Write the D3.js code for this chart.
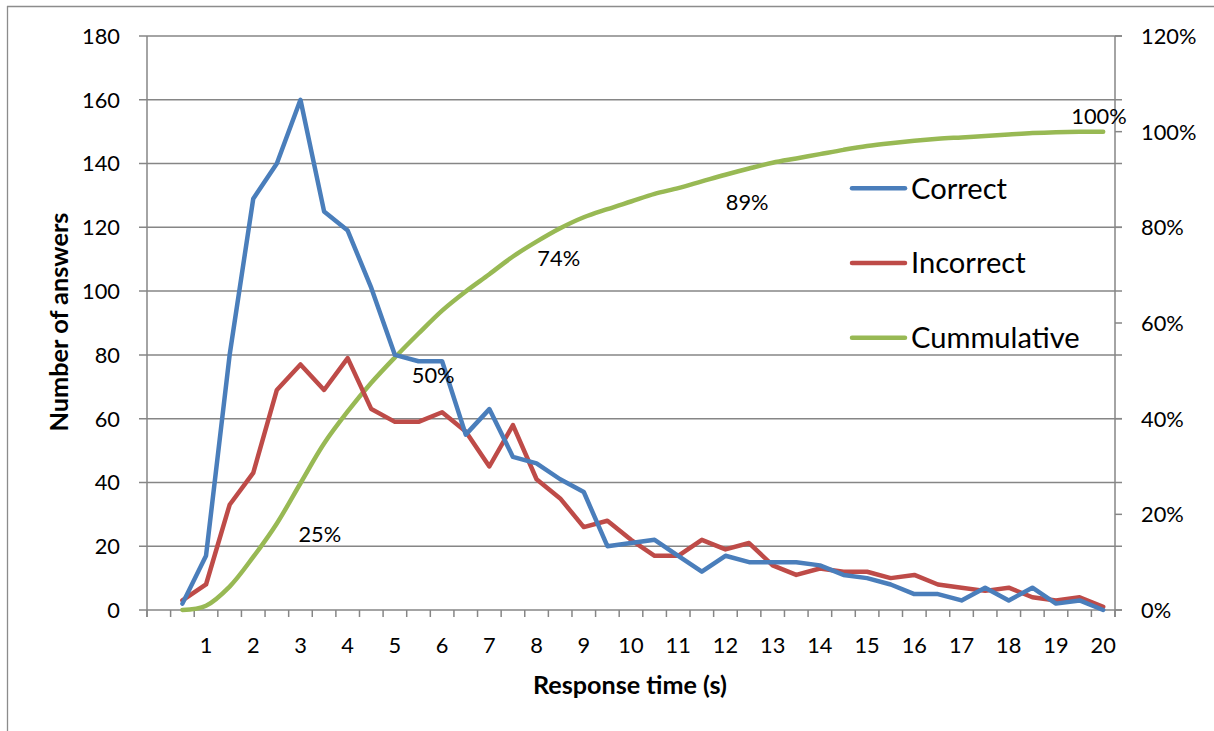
<!DOCTYPE html>
<html>
<head>
<meta charset="utf-8">
<script src="https://cdn.jsdelivr.net/npm/d3@7"></script>
<style>
  html, body { margin: 0; padding: 0; background: #ffffff; }
  svg { display: block; }
</style>
</head>
<body>
<svg id="chart" width="1214" height="731"></svg>
<script>
// ---- data ----
const categories = ["0","0.5","1","1.5","2","2.5","3","3.5","4","4.5","5","5.5","6","6.5","7","7.5","8","8.5","9","9.5","10",
  "10.5","11","11.5","12","12.5","13","13.5","14","14.5","15","15.5","16","16.5","17","17.5","18","18.5","19","19.5","20"];
const xTickLabels = ["1","2","3","4","5","6","7","8","9","10","11","12","13","14","15","16","17","18","19","20"];
const correct = [null, 2,17,80,129,140,160,125,119,101,80,
  78,78,55,63,48,46,41,37,20,21,
  22,17,12,17,15,15,15,14,11,10,
  8,5,5,3,7,3,7,2,3,0];
const incorrect = [null, 3,8,33,43,69,77,69,79,63,59,
  59,62,56,45,58,41,35,26,28,22,
  17,17,22,19,21,14,11,13,12,12,
  10,11,8,7,6,7,4,3,4,1];
const cumulative = [null, 0,0.009,0.049,0.111,0.181,0.265,0.348,0.415,0.475,0.528,
  0.578,0.626,0.666,0.702,0.739,0.770,0.798,0.821,0.838,0.854,
  0.870,0.882,0.896,0.910,0.923,0.935,0.944,0.953,0.962,0.970,
  0.976,0.981,0.985,0.988,0.991,0.994,0.997,0.999,1.0,1.0];
const seriesNames = ["Correct","Incorrect","Cummulative"];
const leftTicks = [0,20,40,60,80,100,120,140,160,180];
const rightTicks = [0,0.2,0.4,0.6,0.8,1.0,1.2];
const labelTexts = ["25%","50%","74%","89%","100%"];
const labelTimes = [3.41, 5.81, 8.47, 12.46, 19.91];
const labelPcts = [0.159, 0.491, 0.736, 0.852, 1.032];

// ---- layout ----
const FONT = "Lato, 'Open Sans', sans-serif";
const colors = ["#4A7EBB", "#BE4B48", "#98B954"];
const gridColor = "#868686";
const plot = { left: 147, right: 1115, top: 36, bottom: 610 };

const svg = d3.select("#chart");

function fitFont(text, weight, target) {
  const t = svg.append("text").attr("font-family", FONT).attr("font-weight", weight)
    .attr("font-size", 100).text(text);
  const w = t.node().getComputedTextLength();
  t.remove();
  return 100 * target / w;
}
const tickFs = (fitFont("180", 400, 36.7) + fitFont("120%", 400, 57.3)) / 2;
const legendFs = (fitFont("Correct", 400, 94.7) + fitFont("Cummulative", 400, 171.3)) / 2;
const xTitleFs = fitFont("Response time (s)", 700, 194);
const yTitleFs = fitFont("Number of answers", 700, 219);

// scales
const x = d3.scaleBand().domain(categories).range([plot.left, plot.right]).paddingInner(0).paddingOuter(0);
const bw = x.bandwidth();
const cx = c => x(c) + bw / 2;
const xLin = d3.scaleLinear().domain([0, 20]).range([cx("0"), cx("20")]);
const yL = d3.scaleLinear().domain([0, 180]).range([plot.bottom, plot.top]);
const yR = d3.scaleLinear().domain([0, 1.2]).range([plot.bottom, plot.top]);

// outer chart border (partially visible)
svg.append("line").attr("x1", 7.5).attr("x2", 7.5).attr("y1", 6).attr("y2", 731)
  .attr("stroke", "#8c8c8c").attr("stroke-width", 1.3);
svg.append("line").attr("x1", 7).attr("x2", 1214).attr("y1", 6.5).attr("y2", 6.5)
  .attr("stroke", "#8c8c8c").attr("stroke-width", 1.3);

// gridlines (with outside tick on left/right)
svg.append("g").selectAll("line").data(leftTicks).join("line")
  .attr("x1", plot.left - 8).attr("x2", plot.right + 7)
  .attr("y1", d => yL(d)).attr("y2", d => yL(d))
  .attr("stroke", gridColor).attr("stroke-width", 1.5);

// right axis minor ticks for percent ticks not coincident with grid
svg.append("g").selectAll("line").data(rightTicks).join("line")
  .attr("x1", plot.right).attr("x2", plot.right + 7)
  .attr("y1", d => yR(d)).attr("y2", d => yR(d))
  .attr("stroke", gridColor).attr("stroke-width", 1.5);

// axis lines
svg.append("line").attr("x1", plot.left).attr("x2", plot.left)
  .attr("y1", plot.top).attr("y2", plot.bottom + 7).attr("stroke", gridColor).attr("stroke-width", 1.5);
svg.append("line").attr("x1", plot.right).attr("x2", plot.right)
  .attr("y1", plot.top).attr("y2", plot.bottom + 7).attr("stroke", gridColor).attr("stroke-width", 1.5);

// category tick marks at band boundaries
const boundaries = categories.map(c => x(c)).concat([plot.right]);
svg.append("g").selectAll("line").data(boundaries).join("line")
  .attr("x1", d => d).attr("x2", d => d)
  .attr("y1", plot.bottom).attr("y2", plot.bottom + 7)
  .attr("stroke", gridColor).attr("stroke-width", 1.5);

// left tick labels
svg.append("g").selectAll("text").data(leftTicks).join("text")
  .attr("x", 120).attr("y", d => yL(d) + tickFs * 0.36)
  .attr("text-anchor", "end").attr("font-family", FONT).attr("font-size", tickFs)
  .attr("fill", "#000").text(d => d);

// right tick labels
svg.append("g").selectAll("text").data(rightTicks).join("text")
  .attr("x", 1141).attr("y", d => yR(d) + tickFs * 0.36)
  .attr("text-anchor", "start").attr("font-family", FONT).attr("font-size", tickFs)
  .attr("fill", "#000").text(d => d3.format(".0%")(d));

// x tick labels
svg.append("g").selectAll("text").data(xTickLabels).join("text")
  .attr("x", d => cx(d)).attr("y", 653)
  .attr("text-anchor", "middle").attr("font-family", FONT).attr("font-size", tickFs)
  .attr("fill", "#000").text(d => d);

// axis titles
svg.append("text").attr("x", 630).attr("y", 694).attr("text-anchor", "middle")
  .attr("font-family", FONT).attr("font-weight", 700).attr("font-size", xTitleFs)
  .attr("fill", "#000").text("Response time (s)");
svg.append("text").attr("transform", "translate(68,322) rotate(-90)").attr("text-anchor", "middle")
  .attr("font-family", FONT).attr("font-weight", 700).attr("font-size", yTitleFs)
  .attr("fill", "#000").text("Number of answers");

// lines
const lineL = d3.line().defined(d => d.v !== null).x(d => cx(d.c)).y(d => yL(d.v));
const lineR = d3.line().defined(d => d.v !== null).x(d => cx(d.c)).y(d => yR(d.v)).curve(d3.curveCatmullRom.alpha(0.5));
const toPts = arr => categories.map((c, i) => ({ c, v: arr[i] }));

svg.append("path").datum(toPts(cumulative)).attr("d", lineR)
  .attr("fill", "none").attr("stroke", colors[2]).attr("stroke-width", 4.5)
  .attr("stroke-linejoin", "round").attr("stroke-linecap", "round");
svg.append("path").datum(toPts(incorrect)).attr("d", lineL)
  .attr("fill", "none").attr("stroke", colors[1]).attr("stroke-width", 4.5)
  .attr("stroke-linejoin", "round").attr("stroke-linecap", "round");
svg.append("path").datum(toPts(correct)).attr("d", lineL)
  .attr("fill", "none").attr("stroke", colors[0]).attr("stroke-width", 4.5)
  .attr("stroke-linejoin", "round").attr("stroke-linecap", "round");

// data labels on cumulative
svg.append("g").selectAll("text").data(labelTexts).join("text")
  .attr("x", (d, i) => xLin(labelTimes[i]))
  .attr("y", (d, i) => yR(labelPcts[i]) + tickFs * 0.36)
  .attr("text-anchor", "middle").attr("font-family", FONT).attr("font-size", tickFs)
  .attr("fill", "#000").text(d => d);

// legend
const legendY = [188.3, 263, 337.7];
const lg = svg.append("g").selectAll("g").data(seriesNames).join("g");
lg.append("line").attr("x1", 852).attr("x2", 905)
  .attr("y1", (d, i) => legendY[i]).attr("y2", (d, i) => legendY[i])
  .attr("stroke", (d, i) => colors[i]).attr("stroke-width", 4.5).attr("stroke-linecap", "round");
lg.append("text").attr("x", 911).attr("y", (d, i) => legendY[i] + legendFs * 0.35)
  .attr("font-family", FONT).attr("font-size", legendFs).attr("fill", "#000").text(d => d);
</script>
</body>
</html>
